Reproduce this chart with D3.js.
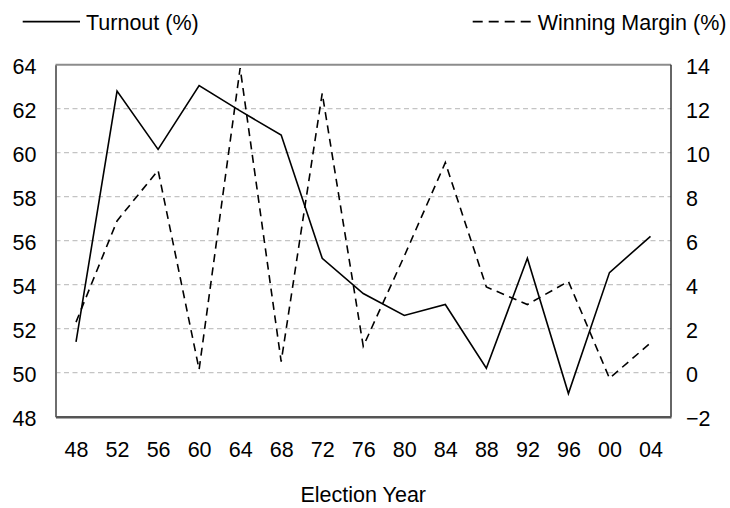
<!DOCTYPE html>
<html lang="en">
<head>
    <meta charset="UTF-8">
    <title>Turnout and Winning Margin by Election Year</title>
    <script src="https://d3js.org/d3.v7.min.js"></script>
    <style>
        body { margin: 0; background: #fff; }
        svg { font-family: "Liberation Sans", Arial, sans-serif; }
    </style>
</head>
<body>
<div id="chart"></div>
<script>
const width = 730;
const height = 508;

// data
const years = ["48", "52", "56", "60", "64", "68", "72", "76", "80", "84", "88", "92", "96", "00", "04"];
const turnout = [51.4, 62.8, 60.15, 63.05, 61.9, 60.8, 55.2, 53.6, 52.6, 53.1, 50.2, 55.2, 49.05, 54.55, 56.2];
const margin = [2.3, 6.9, 9.2, 0.15, 13.85, 0.5, 12.7, 1.2, 5.3, 9.55, 3.9, 3.1, 4.15, -0.25, 1.35];
const leftTicks = [48, 50, 52, 54, 56, 58, 60, 62, 64];
const rightTicks = [-2, 0, 2, 4, 6, 8, 10, 12, 14];

const plot = { left: 55.5, right: 671, top: 64.7, bottom: 416.7 };
const fontSize = "21.5px";

const svg = d3.select("#chart").append("svg")
    .attr("width", width)
    .attr("height", height);

const x = d3.scalePoint()
    .domain(years)
    .range([plot.left, plot.right])
    .padding(0.5);

const yL = d3.scaleLinear().domain([48, 64]).range([plot.bottom, plot.top]);
const yR = d3.scaleLinear().domain([-2, 14]).range([plot.bottom, plot.top]);

// gridlines
svg.append("g")
    .selectAll("line")
    .data(leftTicks.filter(d => d > 48 && d < 64))
    .join("line")
    .attr("x1", plot.left)
    .attr("x2", plot.right)
    .attr("y1", d => yL(d))
    .attr("y2", d => yL(d))
    .attr("stroke", "#c4c4c4")
    .attr("stroke-width", 1.3)
    .attr("stroke-dasharray", "5,3.5");

// plot frame
svg.append("line").attr("x1", plot.left).attr("x2", plot.right).attr("y1", plot.top).attr("y2", plot.top)
    .attr("stroke", "#8c8c8c").attr("stroke-width", 2);
svg.append("line").attr("x1", plot.right).attr("x2", plot.right).attr("y1", plot.top).attr("y2", plot.bottom)
    .attr("stroke", "#333").attr("stroke-width", 1.5);

// left axis
const axL = svg.append("g")
    .attr("transform", `translate(${plot.left},0)`)
    .call(d3.axisLeft(yL).tickValues(leftTicks).tickSize(0).tickPadding(19));
axL.select(".domain").attr("stroke", "#6e6e6e").attr("stroke-width", 2);
axL.selectAll("text").attr("font-size", fontSize).attr("fill", "#000").attr("font-family", null).attr("dy", "0.42em");

// right axis
const axR = svg.append("g")
    .attr("transform", `translate(${plot.right},0)`)
    .call(d3.axisRight(yR).tickValues(rightTicks).tickSize(0).tickPadding(15));
axR.select(".domain").remove();
axR.selectAll("text").attr("font-size", fontSize).attr("fill", "#000").attr("font-family", null).attr("dy", "0.42em");

// bottom axis
const axB = svg.append("g")
    .attr("transform", `translate(0,${plot.bottom})`)
    .call(d3.axisBottom(x).tickSize(0).tickPadding(25));
axB.select(".domain").attr("stroke", "#555").attr("stroke-width", 2.5);
axB.selectAll("text").attr("font-size", fontSize).attr("fill", "#000").attr("font-family", null);

// axis title
svg.append("text")
    .attr("x", (plot.left + plot.right) / 2)
    .attr("y", 502)
    .attr("text-anchor", "middle")
    .attr("font-size", fontSize)
    .text("Election Year");

// series
const lineL = d3.line().x((d, i) => x(years[i])).y(d => yL(d));
const lineR = d3.line().x((d, i) => x(years[i])).y(d => yR(d));

svg.append("path")
    .datum(turnout)
    .attr("d", lineL)
    .attr("fill", "none")
    .attr("stroke", "#000")
    .attr("stroke-width", 1.6);

svg.append("path")
    .datum(margin)
    .attr("d", lineR)
    .attr("fill", "none")
    .attr("stroke", "#000")
    .attr("stroke-width", 1.6)
    .attr("stroke-dasharray", "8,5.5");

// legend
const legend = [
    { label: "Turnout (%)", x1: 22.7, x2: 80, dash: null },
    { label: "Winning Margin (%)", x1: 472.7, x2: 531.7, dash: "10,6" }
];
legend.forEach(l => {
    svg.append("line")
        .attr("x1", l.x1).attr("x2", l.x2)
        .attr("y1", 21.7).attr("y2", 21.7)
        .attr("stroke", "#000")
        .attr("stroke-width", 1.8)
        .attr("stroke-dasharray", l.dash);
    svg.append("text")
        .attr("x", l.x2 + 6)
        .attr("y", 29.5)
        .attr("font-size", fontSize)
        .text(l.label);
});
</script>
</body>
</html>
